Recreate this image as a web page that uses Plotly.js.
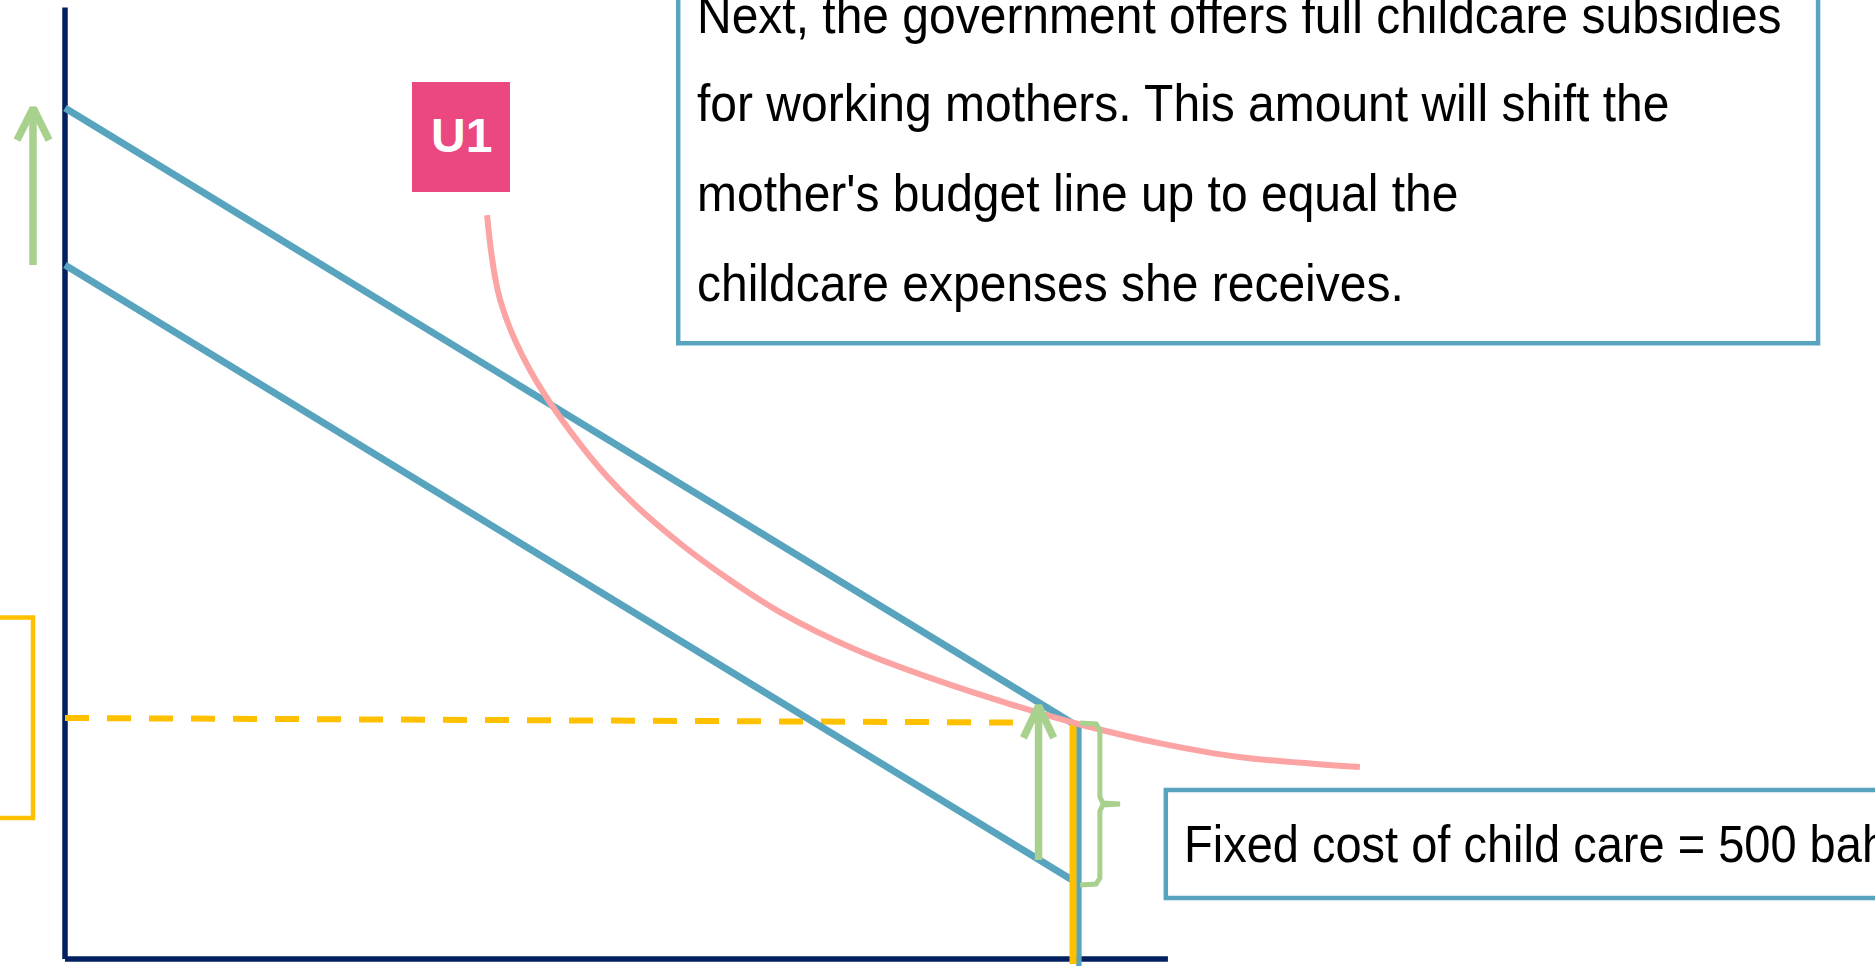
<!DOCTYPE html>
<html>
<head>
<meta charset="utf-8">
<script src="https://cdn.plot.ly/plotly-3.0.1.min.js"></script>
<style>
  html, body { margin: 0; padding: 0; background: #ffffff; overflow: hidden; }
  #chart { width: 1875px; height: 969px; }
</style>
</head>
<body>
<div id="chart"></div>
<script>
// ---------- DATA (x = hours of leisure, y = income in baht) ----------
const budgetX = [0, 24];
const budgetWithSubsidy = [2710, 750];     // shifted budget line
const budgetWithoutSubsidy = [2210, 250];  // original budget line
const fixedCost = 500;                     // fixed cost of child care (baht)

const axisYX = [0, 0];
const axisYY = [0, 3030];
const axisXX = [0, 26.26];
const axisXY = [0, 0];

const endpointBlueX = [24.14, 24.14];
const endpointBlueY = [748, -22];
const endpointYellowX = [24.0, 24.0];
const endpointYellowY = [755, -16];

const incomeLevelX = [0, 22.57];
const incomeLevelY = [767.5, 753.2];

const u1X = [10.05, 10.36, 11.07, 12.50, 13.45, 14.64, 15.83, 17.02,
             18.85, 20.67, 22.50, 24.31, 26.14, 27.95, 29.79, 30.83];
const u1Y = [2369, 2099, 1876, 1600, 1462, 1324, 1207, 1105,
             984, 892, 812, 742, 685, 643, 621, 611.5];

const leftShiftArrowX = [-0.762, -0.762];
const leftShiftArrowY = [2210, 2700];
const leftShiftHeadX = [-1.143, -0.755, -0.381];
const leftShiftHeadY = [2608, 2710, 2608];

const rightShiftArrowX = [23.18, 23.18];
const rightShiftArrowY = [315, 798];
const rightShiftHeadX = [22.82, 23.18, 23.54];
const rightShiftHeadY = [704, 806, 704];

const braceX = [24.17, 24.55, 24.64, 24.64, 24.71, 25.12, 24.71, 24.64, 24.64, 24.55, 24.17];
const braceY = [751.6, 748.4, 729.3, 515.9, 496.8, 493.6, 490.4, 471.3, 258.0, 238.9, 235.7];

const leftBracketX = [-1.6, -0.762, -0.762, -1.6];
const leftBracketY = [1087.6, 1087.6, 449.0, 449.0];

const noteLines = [
  "Next, the government offers full childcare subsidies",
  "for working mothers. This amount will shift the",
  "mother's budget line up to equal the",
  "childcare expenses she receives."
];
const noteLineY = [3006, 2724, 2437, 2151];
const fixedCostLabel = "Fixed cost of child care = " + fixedCost + " baht";
const curveLabel = "U1";

// ---------- STYLES ----------
const NAVY = '#002060';
const BLUE = '#58A4BF';
const PINK = '#FCA3A3';
const YELLOW = '#FFC000';
const GREEN = '#A9D18E';
const MAGENTA = '#EB4882';

// detect whether the narrow face is installed
function hasFont(name) {
  const c = document.createElement('canvas').getContext('2d');
  const s = 'childcare expenses WWW 0123';
  c.font = '52px monospace';
  const a = c.measureText(s).width;
  c.font = '52px "' + name + '", monospace';
  const b = c.measureText(s).width;
  return Math.abs(a - b) > 1;
}
const narrow = hasFont('Liberation Sans Narrow');
const FONT = narrow ? '"Liberation Sans Narrow", "Liberation Sans", Arial, sans-serif'
                    : '"Liberation Sans", Arial, sans-serif';
const noteSize = narrow ? 52 : 48;
const fixedSize = narrow ? 51 : 47;
const labelSize = narrow ? 54 : 48;
const spacing = narrow ? '2.2px' : '0px';
const stretch = narrow ? 1 : 1.09;

function line(x, y, color, width, extra) {
  return {
    x: x, y: y, type: 'scatter', mode: 'lines',
    line: Object.assign({ color: color, width: width }, extra || {}),
    hoverinfo: 'skip', showlegend: false
  };
}

const traces = [
  line(axisYX, axisYY, NAVY, 5.5),
  line(axisXX, axisXY, NAVY, 5.5),
  line(incomeLevelX, incomeLevelY, YELLOW, 6, { dash: '24px,18px' }),
  line(budgetX, budgetWithSubsidy, BLUE, 7),
  line(budgetX, budgetWithoutSubsidy, BLUE, 7),
  line(endpointBlueX, endpointBlueY, BLUE, 5.5),
  line(endpointYellowX, endpointYellowY, YELLOW, 7),
  line(leftBracketX, leftBracketY, YELLOW, 4.5),
  line(u1X, u1Y, PINK, 6, { shape: 'spline', smoothing: 1 }),
  line(leftShiftArrowX, leftShiftArrowY, GREEN, 7.5),
  line(leftShiftHeadX, leftShiftHeadY, GREEN, 7.5),
  line(rightShiftArrowX, rightShiftArrowY, GREEN, 7.5),
  line(rightShiftHeadX, rightShiftHeadY, GREEN, 7.5),
  line(braceX, braceY, GREEN, 5)
];

const shapes = [
  { type: 'rect', xref: 'x', yref: 'y', x0: 14.6, x1: 41.74, y0: 1961, y1: 3120,
    line: { color: BLUE, width: 4.5 }, fillcolor: 'rgba(255,255,255,0)', layer: 'above' },
  { type: 'rect', xref: 'x', yref: 'y', x0: 26.21, x1: 44.5, y0: 194.3, y1: 538.2,
    line: { color: BLUE, width: 4.5 }, fillcolor: 'rgba(255,255,255,0)', layer: 'above' },
  { type: 'rect', xref: 'x', yref: 'y', x0: 8.262, x1: 10.595, y0: 2442.7, y1: 2793.0,
    line: { width: 0 }, fillcolor: MAGENTA, layer: 'above' }
];

const annotations = noteLines.map((t, i) => ({
  text: t, x: 15.0, y: noteLineY[i], xref: 'x', yref: 'y',
  xanchor: 'left', yanchor: 'middle', align: 'left', showarrow: false,
  font: { family: FONT, size: noteSize, color: '#000000' }
}));
annotations.push({
  text: fixedCostLabel, x: 26.6, y: 364, xref: 'x', yref: 'y',
  xanchor: 'left', yanchor: 'middle', align: 'left', showarrow: false,
  font: { family: FONT, size: fixedSize, color: '#000000' }
});
annotations.push({
  text: curveLabel, x: 9.4286, y: 2624, xref: 'x', yref: 'y',
  xanchor: 'center', yanchor: 'middle', showarrow: false,
  font: { family: FONT, size: labelSize, color: '#FFFFFF', weight: 'bold' }
});

const layout = {
  width: 1875, height: 969,
  margin: { l: 0, r: 0, t: 0, b: 0, pad: 0 },
  paper_bgcolor: '#FFFFFF', plot_bgcolor: '#FFFFFF',
  xaxis: { range: [-1.5476, 43.0952], visible: false, fixedrange: true },
  yaxis: { range: [-31.85, 3054.1], visible: false, fixedrange: true },
  shapes: shapes,
  annotations: annotations,
  showlegend: false
};

Plotly.newPlot('chart', traces, layout, { displayModeBar: false, staticPlot: true }).then(function () {
  const els = document.querySelectorAll('#chart .annotation-text');
  els.forEach(function (el, i) {
    if (i < noteLines.length + 1) {
      el.style.letterSpacing = spacing;
      if (stretch !== 1) {
        el.style.transformBox = 'fill-box';
        el.style.transformOrigin = 'center';
        el.style.transform = 'scaleY(' + stretch + ')';
      }
    }
  });
});
</script>
</body>
</html>
